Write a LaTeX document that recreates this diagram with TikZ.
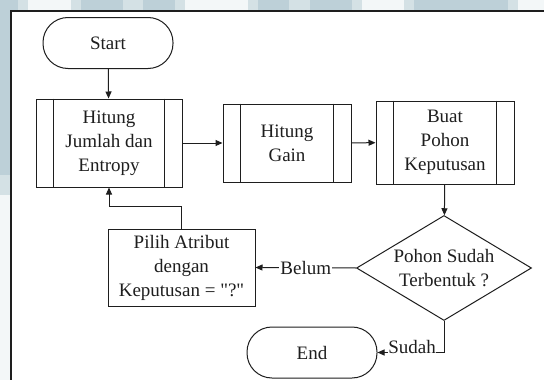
\documentclass[tikz,border=0pt]{standalone}
\usepackage{fontspec}
\setmainfont{Liberation Serif}
% plain family without TeX ligature mapping, so " stays a straight quote
\newfontfamily\flowfont{Liberation Serif}
\usetikzlibrary{arrows.meta,shapes.geometric}
\definecolor{bgA}{HTML}{BDD0D8}
\definecolor{bgB}{HTML}{D4E1E5}
\definecolor{bgC}{HTML}{F3F7F8}
\definecolor{ink}{HTML}{1E1E1E}

\begin{document}
\begin{tikzpicture}[x=1pt,y=-1pt,
  txt/.style={font=\flowfont\fontsize{19}{24}\selectfont, text=ink, align=center},
  shapebase/.style={txt, draw=ink, line width=1pt, inner sep=0pt},
  terminal/.style={shapebase, rounded corners=25pt, minimum width=130pt, minimum height=51pt},
  subproc/.style={shapebase, rectangle},
  process/.style={shapebase, rectangle},
  decision/.style={shapebase, diamond, aspect=1.667, minimum width=175pt, minimum height=105pt},
  arr/.style={draw=ink, line width=1pt, -{Triangle[length=7pt,width=6pt]}},
  lbl/.style={txt, fill=white, inner sep=1pt},
  bar/.style={draw=ink, line width=1pt}]

\useasboundingbox (0,0) rectangle (544,380);
\fill[white] (0,0) rectangle (544,380);

% tinted page margin outside the frame
\fill[bgC] (0,0) rectangle (544,10.5);
\fill[bgC] (0,0) rectangle (10.5,380);
\fill[bgA] (0,0) rectangle (10.5,175);
\fill[bgB] (0,175) rectangle (10.5,195);
\foreach \a/\b/\c in {0/18/bgA, 18/28/bgB, 71/81/bgB, 81/123/bgA, 123/143/bgB,
  143/175/bgA, 175/185/bgB, 248/258/bgB, 258/289/bgA, 289/310/bgB, 310/352/bgA,
  352/362/bgB, 404/414/bgB, 414/508/bgA, 508/518/bgB}
  \fill[\c] (\a,0) rectangle (\b,10.5);

% frame
\draw[ink, line width=1.6pt] (11,380) -- (11,11) -- (544,11);

% nodes
\node[terminal] (start) at (108,43) {Start};
\node[subproc, minimum width=146pt, minimum height=88pt] (A) at (109,143)
  {Hitung\\Jumlah dan\\Entropy};
\node[subproc, minimum width=128pt, minimum height=78pt] (B) at (287,143)
  {Hitung\\Gain};
\node[subproc, minimum width=138pt, minimum height=83pt] (C) at (445,142.5)
  {Buat\\Pohon\\Keputusan};
\node[decision] (D) at (444,268) {Pohon Sudah\\Terbentuk ?};
\node[process, minimum width=147pt, minimum height=77pt] (E) at (181.5,267.5)
  {Pilih Atribut\\dengan\\Keputusan = "?"};
\node[terminal] (F) at (312,352.5) {End};

% side bars of the predefined-process boxes
\foreach \n in {A,B,C}
  \draw[bar] ([xshift=18pt]\n.north west) -- ([xshift=18pt]\n.south west)
             ([xshift=-18pt]\n.north east) -- ([xshift=-18pt]\n.south east);

% connectors
\draw[arr] (start) -- (A);
\draw[arr] (A) -- (B);
\draw[arr] (B) -- (C);
\draw[arr] (C) -- (D);
\draw[arr] (D.west) -- node[lbl] {Belum} (E.east);
\draw[arr] (E.north) -- ++(0,-22) -| (A.south);
\draw[arr] (D.south) |- node[lbl, pos=0.74, anchor=base, yshift=-1pt, inner sep=0.5pt] {Sudah} (F.east);
\end{tikzpicture}
\end{document}
